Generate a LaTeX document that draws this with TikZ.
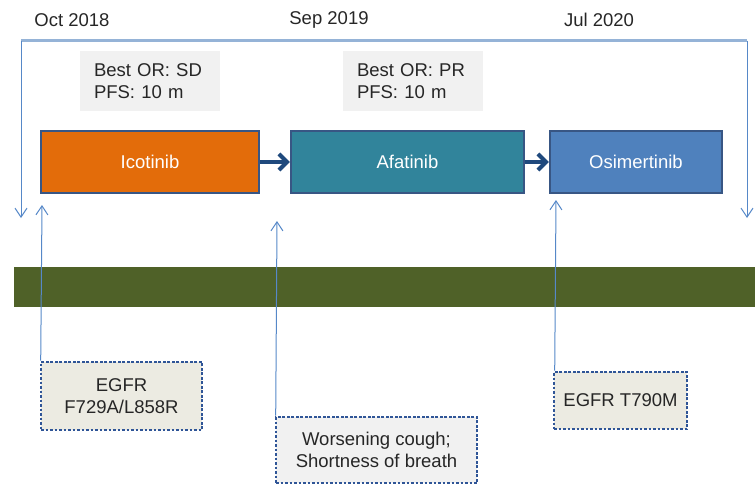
\documentclass[tikz,border=0pt]{standalone}
\usepackage{fontspec}
\setmainfont{Liberation Sans}
\usetikzlibrary{arrows.meta}
\definecolor{icoorange}{RGB}{227,108,10}
\definecolor{afateal}{RGB}{49,132,155}
\definecolor{osiblue}{RGB}{79,129,189}
\definecolor{boxedge}{RGB}{56,86,132}
\definecolor{navyarrow}{RGB}{31,73,125}
\definecolor{thinblue}{RGB}{86,136,200}
\definecolor{lightblue}{RGB}{149,179,215}
\definecolor{bandgreen}{RGB}{79,97,40}
\definecolor{notegray}{RGB}{241,241,241}
\definecolor{notebeige}{RGB}{236,235,226}
\definecolor{dotblue}{RGB}{47,85,151}
\begin{document}
\begin{tikzpicture}[x=1pt,y=-1pt,font=\fontsize{18.5}{22}\selectfont]
  \tikzstyle{drug}=[rectangle,draw=boxedge,line width=2.5pt,text=white,
  minimum height=62pt,inner sep=0pt]
  \tikzstyle{outcome}=[rectangle,fill=notegray,text=black!85,align=left,
  text width=112pt,inner xsep=14pt,minimum height=60pt]
  \tikzstyle{event}=[rectangle,draw=dotblue,line width=2.6pt,
  dash pattern=on 2.6pt off 1.9pt,text=black!85,align=center,inner sep=0pt]
  \tikzstyle{date}=[text=black!85,inner sep=0pt]
  \tikzstyle{thin}=[draw=thinblue,line width=1pt,
  -{Straight Barb[length=9pt,width=12pt]}]
  \tikzstyle{next}=[draw=navyarrow,line width=4pt,
  -{Straight Barb[length=8pt,width=16pt]}]
  \useasboundingbox (0,0) rectangle (755,484);
  \node[date](oct) at (72,20){Oct 2018};
  \node[date](sep) at (329,20){Sep 2019};
  \node[date](jul) at (599,20){Jul 2020};
  \coordinate (tl) at (21,41);
  \coordinate (tr) at (747,41);
  \coordinate (bl) at (21,218);
  \coordinate (br) at (747,218);
  \path[draw,draw=lightblue,line width=3pt] (tl) -- (tr);
  \path[thin] (tl) -- (bl);
  \path[thin] (tr) -- (br);
  \node[outcome](or1) at (150,81){Best OR: SD\\PFS: 10 m};
  \node[outcome](or2) at (413,81){Best OR: PR\\PFS: 10 m};
  \node[drug,fill=icoorange,minimum width=218pt](ico) at (150,162){Icotinib};
  \node[drug,fill=afateal,minimum width=233pt](afa) at (407.5,162){Afatinib};
  \node[drug,fill=osiblue,minimum width=172pt](osi) at (636,162){Osimertinib};
  \path[next] (ico) -- (afa);
  \path[next] (afa) -- (osi);
  \fill[bandgreen] (14,267) rectangle (755,307);
  \node[event,fill=notebeige,minimum width=161pt,minimum height=68pt]
  (egfr) at (121.5,396){EGFR\\F729A/L858R};
  \node[event,fill=notegray,minimum width=201pt,minimum height=66pt]
  (cough) at (376.5,450){Worsening cough;\\Shortness of breath};
  \node[event,fill=notebeige,minimum width=133pt,minimum height=57pt]
  (t790) at (620.5,400.5){EGFR T790M};
  \coordinate (a1) at (42,205);
  \coordinate (a2) at (277,221);
  \coordinate (a3) at (556,200);
  \path[thin] (egfr.north west) ++(1,0) -- (a1);
  \path[thin] (cough.north west) ++(1,0) -- (a2);
  \path[thin] (t790.north west) ++(2,0) -- (a3);
\end{tikzpicture}
\end{document}
